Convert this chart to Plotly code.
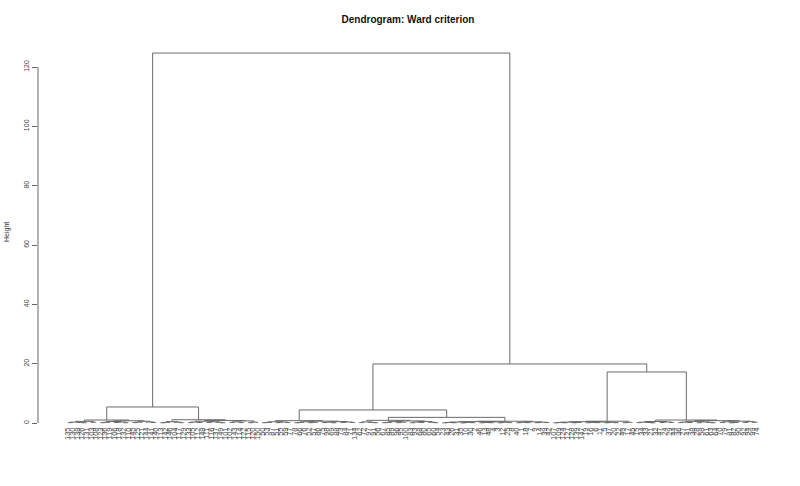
import plotly.graph_objects as go

# ---- data: hierarchical clustering (Ward), heights ----
# node = [merge_height, left, right]; leaf = observation label
cluster_A1 = [1.0,
    [0.55, [0.3, [0.12, 135, 130], [0.2, 138, [0.08, 126, 131]]], [0.25, 103, 108]],
    [0.75, [0.5, [0.22, [0.1, 123, 136], 119], [0.3, [0.15, 106, 118], [0.09, 132, 110]]],
           [0.6, [0.28, [0.14, 145, 125], 121], [0.35, 144, [0.18, 141, 140]]]]]
cluster_A2 = [1.1,
    [0.45, [0.2, [0.07, 113, 142], 146], [0.26, 104, [0.11, 117, 129]]],
    [0.85, [0.6, [0.32, [0.13, 133, 105], [0.19, 112, 148]], [0.4, [0.16, 111, 116], [0.24, 137, [0.06, 149, 101]]]],
           [0.7, [0.38, [0.2, 102, 143], [0.12, 114, 122]], [0.29, [0.1, 115, 120], 150]]]]
cluster_B1a = [0.8,
    [0.42, [0.21, [0.09, 50, 53], 87], [0.3, [0.12, 51, 55], [0.15, 59, 77]]],
    [0.62, [0.4, [0.18, [0.07, 78, 66], 76], [0.25, [0.1, 52, 57], 86]],
           [0.48, [0.27, [0.13, 75, 98], [0.08, 69, 88]], [0.33, [0.16, 73, 84], [0.2, 71, 134]]]]]
cluster_B1b1 = [0.9,
    [0.36, [0.14, 62, 72], [0.22, 97, [0.09, 91, 56]]],
    [0.7, [0.45, [0.2, [0.1, 67, 85], 89], [0.27, [0.12, 96, 95], 100]],
          [0.52, [0.3, [0.08, 83, 93], [0.15, 68, 80]], [0.24, 65, [0.11, 60, 54]]]]]
cluster_B1b2 = [0.6,
    [0.48, [0.33, [0.17, [0.06, 23, 43], [0.09, 26, 31]], [0.2, [0.05, 35, 10], [0.11, 30, 2]]],
           [0.38, [0.19, [0.07, 46, 13], [0.1, 48, 4]], [0.24, [0.08, 3, 12], [0.13, 25, 8]]]],
    [0.4, [0.22, [0.09, 40, 1], [0.12, 18, 7]], [0.26, [0.1, 9, 14], [0.15, 39, 42]]]]
cluster_B2a = [0.6,
    [0.45, [0.3, [0.15, [0.06, 107, 109], [0.09, 124, 127]], [0.19, [0.08, 128, 139], 147]],
           [0.35, [0.2, [0.1, 19, 16], [0.12, 6, 11]], [0.23, [0.07, 5, 37], [0.11, 20, 22]]]],
    [0.25, [0.1, 49, 17], 45]]
cluster_B2b = [1.0,
    [0.5, [0.28, [0.12, 15, 34], [0.16, 33, [0.06, 21, 32]]], [0.34, [0.14, 47, 24], [0.18, 29, 44]]],
    [0.8, [0.55, [0.3, [0.13, 36, 27], [0.17, 41, 38]], [0.36, [0.09, 28, 58], [0.21, 61, [0.08, 63, 64]]]],
          [0.62, [0.4, [0.15, 70, 79], [0.19, [0.07, 81, 82], 90]], [0.44, [0.2, 92, 94], [0.26, 99, 74]]]]]

height_A = 5.4
height_B1b = 1.9
height_B1 = 4.4
height_B2 = 17.2
height_B = 19.9
height_root = 124.7

y_ticks = [0, 20, 40, 60, 80, 100, 120]

tree = [height_root,
        [height_A, cluster_A1, cluster_A2],
        [height_B,
         [height_B1, cluster_B1a, [height_B1b, cluster_B1b1, cluster_B1b2]],
         [height_B2, cluster_B2a, cluster_B2b]]]

# ---- layout of the dendrogram ----
xs, ys, leaf_labels = [], [], []


def place(node):
    if not isinstance(node, list):
        leaf_labels.append(str(node))
        return float(len(leaf_labels)), 0.0
    h, left, right = node
    xl, hl = place(left)
    xr, hr = place(right)
    xs.extend([xl, xl, xr, xr, None])
    ys.extend([hl, h, h, hr, None])
    return (xl + xr) / 2.0, h


place(tree)
n = len(leaf_labels)
positions = list(range(1, n + 1))

fig = go.Figure()
fig.add_trace(go.Scatter(x=xs, y=ys, mode="lines",
                         line=dict(color="#6a6a6a", width=1),
                         hoverinfo="skip", showlegend=False))

W, H = 800, 486
ml, mr, mt, mb = 38, 22, 45, 61
px_per_leaf = (757 - 68) / (n - 1)
x_min = 1 - (68 - ml) / px_per_leaf
x_max = n + (W - mr - 757) / px_per_leaf
px_per_h = (423 - 67) / (y_ticks[-1] - y_ticks[0])
y_min = -((H - mb) - 423) / px_per_h
y_max = (423 - mt) / px_per_h

font = "Liberation Sans, Arial, Helvetica, sans-serif"
fig.update_layout(
    width=W, height=H,
    margin=dict(l=ml, r=mr, t=mt, b=mb, autoexpand=False),
    paper_bgcolor="white", plot_bgcolor="white",
    font=dict(family=font, color="#333333"),
    title=dict(text="<b>Dendrogram: Ward criterion</b>", x=0.5, xref="paper",
               y=1 - 19 / H, yref="container", yanchor="middle", xanchor="center",
               font=dict(size=10, color="#111111", family=font)),
    xaxis=dict(range=[x_min, x_max], showgrid=False, zeroline=False, showline=False,
               tickmode="array", tickvals=positions, ticktext=leaf_labels,
               tickangle=-90, ticks="", tickfont=dict(size=7.5, color="#444444"),
               automargin=False),
    yaxis=dict(range=[y_min, y_max], showgrid=False, zeroline=False, showline=False,
               tickmode="array", tickvals=y_ticks, ticktext=[str(t) for t in y_ticks],
               ticks="outside", ticklen=5, tickcolor="#666666", tickwidth=1,
               tickangle=-90, tickfont=dict(size=7, color="#444444"),
               automargin=False),
    shapes=[dict(type="line", xref="paper", yref="y", x0=0, x1=0,
                 y0=y_ticks[0], y1=y_ticks[-1], line=dict(color="#666666", width=1))],
    annotations=[dict(text="Height", xref="paper", yref="paper", x=0, y=0.5,
                      xanchor="center", yanchor="middle", xshift=-31, yshift=3,
                      textangle=-90, showarrow=False,
                      font=dict(size=7, color="#333333", family=font))],
)

fig.write_html("out.html")
